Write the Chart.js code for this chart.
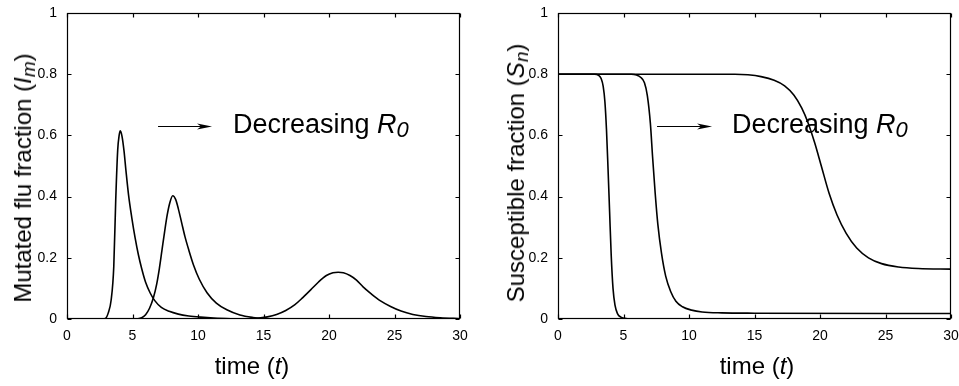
<!DOCTYPE html>
<html>
<head>
<meta charset="utf-8">
<script src="https://cdn.jsdelivr.net/npm/chart.js"></script>
<style>
  body { margin: 0; background: #fff; font-family: "Liberation Sans", Arial, sans-serif; }
  #wrap { position: relative; width: 959px; height: 386px; overflow: hidden; background: #fff; }
  canvas { position: absolute; top: 0; }
  .lbl { position: absolute; white-space: nowrap; color: #000; font-size: 24px; line-height: 1; transform: translate(-50%, -50%); }
  .lbl.rot { transform: translate(-50%, -50%) rotate(-90deg); }
  .lbl sub { font-size: 19px; vertical-align: -4px; line-height: 0; }
</style>
</head>
<body>
<div id="wrap">
  <canvas id="left" width="480" height="386" style="left:0"></canvas>
  <canvas id="right" width="479" height="386" style="left:480px"></canvas>
  <div class="lbl rot" style="left:23px; top:178px">Mutated flu fraction (<i>I<sub>m</sub></i>)</div>
  <div class="lbl rot" style="left:516px; top:173px">Susceptible fraction (<i>S<sub>n</sub></i>)</div>
  <div class="lbl" style="left:252px; top:366px">time (<i>t</i>)</div>
  <div class="lbl" style="left:757px; top:366px">time (<i>t</i>)</div>
</div>
<script>
// axis ticks
const xTicks = [0, 5, 10, 15, 20, 25, 30];
const yTicks = [0, 0.2, 0.4, 0.6, 0.8, 1];

// mutated flu fraction Im, three values of R0
const imT1 = [0, 2.6, 2.93, 3.15, 3.37, 3.57, 3.72, 3.87, 3.98, 4.07, 4.2, 4.35, 4.5, 4.7, 4.95, 5.2, 5.45, 5.7, 6.0, 6.35, 6.7, 7.2, 7.8, 8.5, 9.3, 10.2, 11.2, 12.5, 14, 30];
const imV1 = [0, 0, 0.002, 0.02, 0.062, 0.171, 0.389, 0.552, 0.6, 0.615, 0.597, 0.55, 0.485, 0.405, 0.33, 0.265, 0.21, 0.165, 0.12, 0.085, 0.06, 0.038, 0.025, 0.016, 0.01, 0.006, 0.003, 0.001, 0, 0];
const imT2 = [0, 5.3, 5.7, 6.0, 6.3, 6.6, 6.85, 7.05, 7.25, 7.45, 7.65, 7.85, 8.07, 8.3, 8.5, 8.75, 9.0, 9.3, 9.67, 10.1, 10.69, 11.4, 12.2, 13.2, 14.2, 15.2, 16, 30];
const imV2 = [0, 0, 0.004, 0.014, 0.035, 0.07, 0.115, 0.165, 0.225, 0.285, 0.34, 0.38, 0.403, 0.39, 0.36, 0.315, 0.27, 0.225, 0.175, 0.13, 0.086, 0.052, 0.03, 0.013, 0.005, 0.001, 0, 0];
const imT3 = [0, 13.5, 14.5, 15.3, 16.0, 16.7, 17.4, 18.0, 18.6, 19.2, 19.8, 20.3, 20.7, 21.1, 21.6, 22.1, 22.6, 23.2, 23.9, 24.7, 25.5, 26.4, 27.4, 28.5, 30];
const imV3 = [0, 0, 0.002, 0.007, 0.015, 0.028, 0.047, 0.07, 0.095, 0.121, 0.142, 0.151, 0.153, 0.151, 0.142, 0.127, 0.105, 0.083, 0.06, 0.041, 0.026, 0.015, 0.008, 0.004, 0.001];

// susceptible fraction Sn
const snT1 = [0, 2.8, 3.1, 3.3, 3.45, 3.58, 3.7, 3.82, 3.94, 4.06, 4.2, 4.35, 4.55, 4.8, 5.1, 5.5, 30];
const snV1 = [0.8, 0.8, 0.796, 0.785, 0.76, 0.71, 0.62, 0.49, 0.35, 0.21, 0.1, 0.045, 0.017, 0.006, 0.002, 0, 0];
const snT2 = [0, 5.6, 6.0, 6.3, 6.6, 6.82, 7.05, 7.22, 7.42, 7.62, 7.9, 8.22, 8.6, 9.0, 9.5, 10.2, 11, 12.5, 15, 30];
const snV2 = [0.8, 0.8, 0.797, 0.79, 0.772, 0.73, 0.64, 0.53, 0.41, 0.31, 0.215, 0.14, 0.09, 0.058, 0.04, 0.029, 0.023, 0.02, 0.019, 0.018];
const snT3 = [0, 13.5, 14.5, 15.5, 16.5, 17.3, 18.0, 18.6, 19.1, 19.6, 20.1, 20.7, 21.3, 22.0, 22.8, 23.7, 24.7, 26.0, 27.5, 30];
const snV3 = [0.8, 0.8, 0.798, 0.792, 0.78, 0.762, 0.732, 0.69, 0.64, 0.575, 0.5, 0.41, 0.34, 0.28, 0.232, 0.2, 0.181, 0.17, 0.165, 0.163];

const FONT = '"Liberation Sans", Arial, sans-serif';

function series(ts, vs) {
  return {
    data: ts.map((t, i) => ({ x: t, y: vs[i] })),
    borderColor: '#000',
    borderWidth: 1.6,
    pointRadius: 0,
    fill: false,
    cubicInterpolationMode: 'monotone'
  };
}

// box around the plot with inward ticks on all four sides (matlab look)
const frameTicks = {
  id: 'frameTicks',
  afterDatasetsDraw(chart) {
    const { ctx, chartArea: a, scales: { x, y } } = chart;
    const L = Math.round(a.left) + 0.5, R = Math.round(a.right) - 0.5;
    const T = Math.round(a.top) + 0.5, B = Math.round(a.bottom) - 0.5;
    ctx.save();
    ctx.strokeStyle = '#000';
    ctx.lineWidth = 1.2;
    ctx.strokeRect(L, T, R - L, B - T);
    ctx.beginPath();
    x.ticks.forEach(tk => {
      const px = Math.round(x.getPixelForValue(tk.value)) + 0.5;
      ctx.moveTo(px, B); ctx.lineTo(px, B - 4);
      ctx.moveTo(px, T); ctx.lineTo(px, T + 4);
    });
    y.ticks.forEach(tk => {
      const py = Math.round(y.getPixelForValue(tk.value)) + 0.5;
      ctx.moveTo(L, py); ctx.lineTo(L + 4, py);
      ctx.moveTo(R, py); ctx.lineTo(R - 4, py);
    });
    ctx.stroke();
    ctx.restore();
  }
};

// "---->  Decreasing R0" note, placed in data coordinates
const note = {
  id: 'note',
  afterDraw(chart, args, opts) {
    const { ctx, scales: { x, y } } = chart;
    const x1 = x.getPixelForValue(opts.arrow[0]);
    const x2 = x.getPixelForValue(opts.arrow[1]);
    const ay = Math.round(y.getPixelForValue(opts.arrow[2])) + 0.5;
    ctx.save();
    ctx.strokeStyle = '#000';
    ctx.fillStyle = '#000';
    ctx.lineWidth = 1;
    ctx.beginPath();
    ctx.moveTo(x1, ay); ctx.lineTo(x2 - 8, ay);
    ctx.stroke();
    ctx.beginPath();
    ctx.moveTo(x2, ay);
    ctx.lineTo(x2 - 15, ay - 3);
    ctx.lineTo(x2 - 11, ay);
    ctx.lineTo(x2 - 15, ay + 3);
    ctx.closePath();
    ctx.fill();

    let tx = x.getPixelForValue(opts.text[0]);
    const ty = y.getPixelForValue(opts.text[1]);
    ctx.textAlign = 'left';
    ctx.textBaseline = 'alphabetic';
    ctx.font = '27px ' + FONT;
    ctx.fillText('Decreasing ', tx, ty);
    tx += ctx.measureText('Decreasing ').width;
    ctx.font = 'italic 27px ' + FONT;
    ctx.fillText('R', tx, ty);
    tx += ctx.measureText('R').width;
    ctx.font = 'italic 22px ' + FONT;
    ctx.fillText('0', tx, ty + 4);
    ctx.restore();
  }
};

function makeChart(id, datasets, yWidth, padRight, noteOpts) {
  return new Chart(document.getElementById(id), {
    type: 'line',
    data: { datasets },
    plugins: [frameTicks, note],
    options: {
      responsive: false,
      animation: false,
      layout: { padding: { top: 13, right: padRight, left: 0, bottom: 0 } },
      plugins: { legend: { display: false }, tooltip: { enabled: false }, note: noteOpts },
      scales: {
        x: {
          type: 'linear', min: 0, max: 30,
          afterBuildTicks: s => { s.ticks = xTicks.map(v => ({ value: v })); },
          afterFit: s => { s.height = 67; s.paddingLeft = 0; s.paddingRight = 0; },
          grid: { display: false },
          border: { display: false },
          ticks: { color: '#000', font: { family: FONT, size: 14 }, padding: 1, maxRotation: 0,
                   callback: v => String(v) }
        },
        y: {
          type: 'linear', min: 0, max: 1,
          afterBuildTicks: s => { s.ticks = yTicks.map(v => ({ value: v })); },
          afterFit: s => { s.width = yWidth; },
          grid: { display: false },
          border: { display: false },
          ticks: { color: '#000', font: { family: FONT, size: 14 }, padding: 2,
                   callback: v => String(Math.round(v * 10) / 10) }
        }
      }
    }
  });
}

makeChart('left', [series(imT1, imV1), series(imT2, imV2), series(imT3, imV3)], 67, 20,
  { arrow: [6.95, 11.07, 0.631], text: [12.67, 0.608] });
makeChart('right', [series(snT1, snV1), series(snT2, snV2), series(snT3, snV3)], 78, 8,
  { arrow: [7.56, 11.76, 0.631], text: [13.28, 0.608] });
</script>
</body>
</html>
